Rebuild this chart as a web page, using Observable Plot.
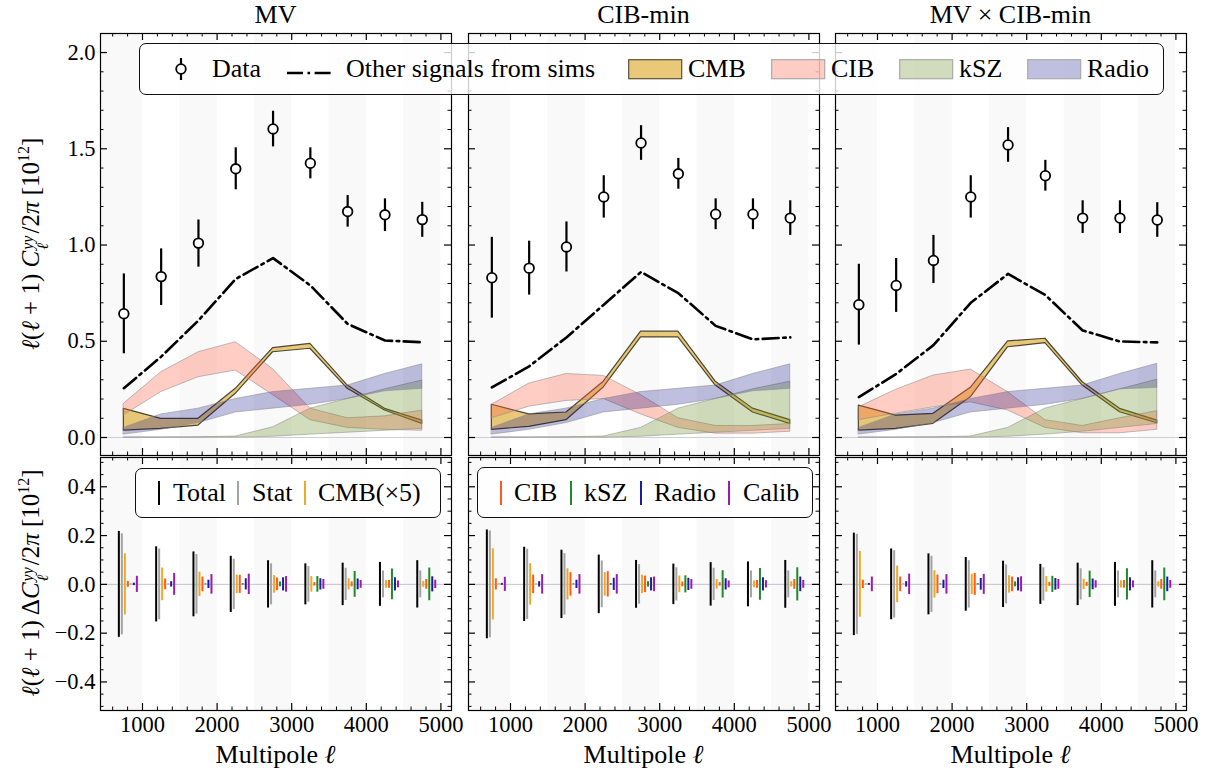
<!DOCTYPE html>
<html>
<head>
<meta charset="utf-8">
<script src="https://cdn.jsdelivr.net/npm/d3@7"></script>
<script src="https://cdn.jsdelivr.net/npm/@observablehq/plot@0.6"></script>
<style>
html,body{margin:0;padding:0;background:#fff;}
#root{position:relative;width:1222px;height:776px;overflow:hidden;font-family:"Liberation Serif","Times New Roman",serif;color:#000;}
#root svg text{font-family:"Liberation Serif","Times New Roman",serif !important;}
.abs{position:absolute;white-space:nowrap;}
.title{font-size:26px;text-align:center;width:351px;line-height:30px;}
.xlab{font-size:26px;text-align:center;width:351px;line-height:30px;}
.ylab{font-size:25px;transform:translate(-50%,-50%) rotate(-90deg);line-height:30px;}
.ss{display:inline-flex;flex-direction:column;font-size:0.64em;line-height:0.95;vertical-align:0.36em;font-style:italic;margin:0 2px 0 1px;}
.sup{font-size:0.64em;vertical-align:0.6em;line-height:0;}
.legend{position:absolute;border:1.6px solid #111;border-radius:7px;background:rgba(255,255,255,0.8);box-sizing:border-box;}
.ltext{position:absolute;font-size:26px;line-height:30px;white-space:nowrap;}
</style>
</head>
<body>
<div id="root"></div>
<script>
// ---------------- data ----------------
const ell = [750, 1250, 1750, 2250, 2750, 3250, 3750, 4250, 4750];
const panelTitles = ["MV", "CIB-min", "MV × CIB-min"];

// measured band powers and error bar ends
const dataMV = [0.643, 0.836, 1.01, 1.396, 1.603, 1.425, 1.174, 1.157, 1.132];
const loMV   = [0.435, 0.686, 0.885, 1.287, 1.51, 1.344, 1.093, 1.07, 1.04];
const hiMV   = [0.85, 0.98, 1.13, 1.505, 1.695, 1.505, 1.257, 1.24, 1.222];
const dataCM = [0.83, 0.88, 0.99, 1.25, 1.53, 1.37, 1.16, 1.16, 1.14];
const loCM   = [0.62, 0.74, 0.86, 1.14, 1.44, 1.29, 1.08, 1.08, 1.05];
const hiCM   = [1.04, 1.02, 1.12, 1.36, 1.62, 1.45, 1.24, 1.24, 1.23];
const dataX  = [0.69, 0.79, 0.92, 1.25, 1.52, 1.36, 1.14, 1.14, 1.13];
const loX    = [0.48, 0.65, 0.80, 1.14, 1.43, 1.28, 1.06, 1.06, 1.04];
const hiX    = [0.90, 0.93, 1.05, 1.36, 1.61, 1.44, 1.23, 1.23, 1.22];

// other signals from sims
const otherMV = [0.256, 0.42, 0.608, 0.824, 0.932, 0.79, 0.59, 0.504, 0.495];
const otherCM = [0.26, 0.37, 0.52, 0.69, 0.86, 0.75, 0.58, 0.51, 0.52];
const otherX  = [0.21, 0.33, 0.48, 0.70, 0.85, 0.74, 0.556, 0.499, 0.494];

// component bands (lower, upper)
const cmbLoMV = [0.036, 0.045, 0.062, 0.227, 0.443, 0.461, 0.253, 0.140, 0.071];
const cmbHiMV = [0.149, 0.097, 0.097, 0.253, 0.464, 0.486, 0.270, 0.149, 0.088];
const cibLoMV = [0.115, 0.236, 0.313, 0.348, 0.22, 0.09, 0.05, 0.04, 0.035];
const cibHiMV = [0.175, 0.339, 0.443, 0.495, 0.355, 0.15, 0.10, 0.11, 0.14];
const kszLoMV = [0, 0, 0, 0, 0.004, 0.015, 0.025, 0.035, 0.045];
const kszHiMV = [0, 0, 0.001, 0.005, 0.053, 0.15, 0.20, 0.25, 0.296];
const radLoMV = [0.015, 0.04, 0.075, 0.13, 0.15, 0.17, 0.20, 0.24, 0.253];
const radHiMV = [0.05, 0.12, 0.15, 0.20, 0.236, 0.253, 0.27, 0.33, 0.38];

const cmbLoCM = [0.04, 0.055, 0.09, 0.26, 0.52, 0.52, 0.27, 0.13, 0.07];
const cmbHiCM = [0.17, 0.12, 0.13, 0.29, 0.55, 0.55, 0.29, 0.15, 0.09];
const cibLoCM = [0.10, 0.16, 0.19, 0.20, 0.12, 0.05, 0.02, 0.02, 0.03];
const cibHiCM = [0.17, 0.28, 0.33, 0.32, 0.22, 0.10, 0.06, 0.06, 0.07];
const kszLoCM = [0, 0, 0, 0, 0.004, 0.015, 0.025, 0.035, 0.045];
const kszHiCM = [0, 0, 0.001, 0.005, 0.05, 0.15, 0.20, 0.25, 0.29];
const radLoCM = [0.015, 0.04, 0.075, 0.13, 0.15, 0.17, 0.20, 0.24, 0.253];
const radHiCM = [0.05, 0.12, 0.15, 0.20, 0.236, 0.253, 0.27, 0.33, 0.38];

const cmbLoX = [0.036, 0.045, 0.071, 0.209, 0.469, 0.49, 0.27, 0.131, 0.074];
const cmbHiX = [0.166, 0.114, 0.123, 0.258, 0.499, 0.513, 0.287, 0.149, 0.088];
const cibLoX = [0.09, 0.124, 0.157, 0.183, 0.14, 0.05, 0.022, 0.022, 0.04];
const cibHiX = [0.157, 0.248, 0.322, 0.353, 0.235, 0.09, 0.06, 0.10, 0.137];
const kszLoX = [0, 0, 0, 0, 0.004, 0.015, 0.03, 0.05, 0.07];
const kszHiX = [0, 0, 0.001, 0.005, 0.05, 0.15, 0.20, 0.25, 0.30];
const radLoX = [0.015, 0.04, 0.075, 0.13, 0.15, 0.17, 0.20, 0.25, 0.258];
const radHiX = [0.05, 0.12, 0.15, 0.20, 0.236, 0.253, 0.27, 0.33, 0.383];

// error budget half-widths (bottom row)
const compNames = ["Total", "Stat", "CMB(×5)", "CIB", "kSZ", "Radio", "Calib"];
const errMV = [
  [0.217, 0.154, 0.133, 0.115, 0.097, 0.084, 0.087, 0.09, 0.097],
  [0.207, 0.145, 0.122, 0.103, 0.084, 0.073, 0.066, 0.055, 0.055],
  [0.125, 0.067, 0.05, 0.038, 0.036, 0.032, 0.023, 0.016, 0.012],
  [0.012, 0.022, 0.03, 0.037, 0.026, 0.007, 0.01, 0.016, 0.02],
  [0.001, 0.001, 0.002, 0.003, 0.01, 0.032, 0.053, 0.063, 0.067],
  [0.005, 0.011, 0.017, 0.023, 0.027, 0.023, 0.022, 0.027, 0.031],
  [0.033, 0.045, 0.04, 0.042, 0.032, 0.02, 0.016, 0.014, 0.017]
];
const errCM = [
  [0.223, 0.152, 0.14, 0.12, 0.098, 0.083, 0.089, 0.092, 0.098],
  [0.219, 0.144, 0.126, 0.096, 0.081, 0.068, 0.066, 0.055, 0.055],
  [0.146, 0.085, 0.064, 0.048, 0.038, 0.034, 0.02, 0.014, 0.011],
  [0.023, 0.038, 0.048, 0.052, 0.034, 0.01, 0.007, 0.016, 0.02],
  [0.001, 0.001, 0.002, 0.004, 0.011, 0.035, 0.056, 0.065, 0.068],
  [0.004, 0.011, 0.017, 0.025, 0.027, 0.025, 0.023, 0.027, 0.03],
  [0.029, 0.04, 0.04, 0.04, 0.03, 0.02, 0.014, 0.015, 0.016]
];
const errX = [
  [0.21, 0.145, 0.125, 0.11, 0.095, 0.082, 0.087, 0.09, 0.097],
  [0.205, 0.138, 0.115, 0.097, 0.08, 0.068, 0.064, 0.055, 0.055],
  [0.135, 0.075, 0.056, 0.042, 0.036, 0.032, 0.021, 0.015, 0.011],
  [0.017, 0.03, 0.038, 0.045, 0.03, 0.008, 0.008, 0.016, 0.02],
  [0.001, 0.001, 0.002, 0.003, 0.01, 0.033, 0.054, 0.064, 0.067],
  [0.004, 0.011, 0.017, 0.024, 0.027, 0.024, 0.022, 0.027, 0.03],
  [0.03, 0.042, 0.04, 0.041, 0.031, 0.02, 0.015, 0.014, 0.016]
];

// axis ticks
const xMajor = [1000, 2000, 3000, 4000, 5000];
const yTopMajor = [0, 0.5, 1.0, 1.5, 2.0];
const yBotMajor = [-0.4, -0.2, 0, 0.2, 0.4];
const shadeStart = [437, 1500, 2500, 3500, 4500];
const shadeEnd = [1000, 2000, 3000, 4000, 5000];

// ---------------- styles ----------------
const compColors = ["#000000", "#a3a3a3", "#eeaa22", "#ff5a1f", "#1f8a26", "#1c1ca0", "#9a1caa"];
const compDx = [-5, -2, 1, 4, 7, 10, 13];
const bandStyle = {
  cmb: {fill: "#daa520", fillOpacity: 0.6, stroke: "#3a3522", strokeWidth: 1.2, strokeOpacity: 0.9},
  cib: {fill: "#ff6347", fillOpacity: 0.32, stroke: "#888", strokeWidth: 0.9, strokeOpacity: 0.6},
  ksz: {fill: "#6b8e23", fillOpacity: 0.3, stroke: "#888", strokeWidth: 0.9, strokeOpacity: 0.6},
  rad: {fill: "#000080", fillOpacity: 0.25, stroke: "#888", strokeWidth: 0.9, strokeOpacity: 0.6}
};

const xDomain = [437, 5142];
const yTopDomain = [-0.0935, 2.099];
const yBotDomain = [-0.517, 0.52];
const frameLeft = [100, 468, 835];
const FW = 351, TH = 422, BH = 253, TOPY = 33, BOTY = 457;
const ML = 62, MR = 10;

const xMinor = d3.range(600, 5001, 200).filter(v => v % 1000 !== 0);
const yTopMinor = d3.range(0, 21).filter(i => i % 5 !== 0).map(i => i / 10);
const yBotMinor = d3.range(-10, 11).filter(i => i % 4 !== 0).map(i => i * 0.05);

const topSets = [
  {d: dataMV, lo: loMV, hi: hiMV, o: otherMV, cl: cmbLoMV, ch: cmbHiMV, il: cibLoMV, ih: cibHiMV, kl: kszLoMV, kh: kszHiMV, rl: radLoMV, rh: radHiMV},
  {d: dataCM, lo: loCM, hi: hiCM, o: otherCM, cl: cmbLoCM, ch: cmbHiCM, il: cibLoCM, ih: cibHiCM, kl: kszLoCM, kh: kszHiCM, rl: radLoCM, rh: radHiCM},
  {d: dataX, lo: loX, hi: hiX, o: otherX, cl: cmbLoX, ch: cmbHiX, il: cibLoX, ih: cibHiX, kl: kszLoX, kh: kszHiX, rl: radLoX, rh: radHiX}
];
const botSets = [errMV, errCM, errX];

const root = document.getElementById("root");
function place(el, left, top) {
  const d = document.createElement("div");
  d.className = "abs";
  d.style.left = left + "px";
  d.style.top = top + "px";
  d.appendChild(el);
  root.appendChild(d);
  return d;
}
function html(str, cls, left, top, extra) {
  const d = document.createElement("div");
  d.className = "abs " + (cls || "");
  d.style.left = left + "px";
  d.style.top = top + "px";
  if (extra) Object.assign(d.style, extra);
  d.innerHTML = str;
  root.appendChild(d);
  return d;
}

function tickMarks(W, H, yMaj, yMin) {
  const a = 7, b = 3.5;
  const s1 = {stroke: "#000", strokeWidth: 1.2};
  const s2 = {stroke: "#000", strokeWidth: 1};
  return [
    Plot.ruleX(xMajor, {x: d => d, insetTop: H - a, ...s1}),
    Plot.ruleX(xMajor, {x: d => d, insetBottom: H - a, ...s1}),
    Plot.ruleX(xMinor, {x: d => d, insetTop: H - b, ...s2}),
    Plot.ruleX(xMinor, {x: d => d, insetBottom: H - b, ...s2}),
    Plot.ruleY(yMaj, {y: d => d, insetRight: W - a, ...s1}),
    Plot.ruleY(yMaj, {y: d => d, insetLeft: W - a, ...s1}),
    Plot.ruleY(yMin, {y: d => d, insetRight: W - b, ...s2}),
    Plot.ruleY(yMin, {y: d => d, insetLeft: W - b, ...s2})
  ];
}
const shadeRows = shadeStart.map((s, i) => ({x1: s, x2: shadeEnd[i]}));
const plotStyle = {fontFamily: '"Liberation Serif","Times New Roman",serif', fontSize: "22.5px", background: "transparent", overflow: "visible", color: "#000"};
const shadeFill = "#f9f9f9";

function topPanel(p) {
  const s = topSets[p];
  const rows = ell.map((l, i) => ({
    ell: l, d: s.d[i], lo: s.lo[i], hi: s.hi[i], o: s.o[i],
    cl: s.cl[i], ch: s.ch[i], il: s.il[i], ih: s.ih[i], kl: s.kl[i], kh: s.kh[i], rl: s.rl[i], rh: s.rh[i]
  }));
  const mt = 6, mb = 6;
  const svg = Plot.plot({
    width: FW + ML + MR, height: TH + mt + mb,
    marginLeft: ML, marginRight: MR, marginTop: mt, marginBottom: mb,
    style: plotStyle,
    x: {domain: xDomain, axis: null},
    y: p === 0
      ? {domain: yTopDomain, ticks: yTopMajor, tickSize: 0, tickPadding: 5, tickFormat: d3.format(".1f"), label: null}
      : {domain: yTopDomain, axis: null},
    marks: [
      Plot.rect(shadeRows, {x1: "x1", x2: "x2", y1: yTopDomain[0], y2: yTopDomain[1], fill: shadeFill}),
      Plot.ruleY([0], {stroke: "#cfcfcf", strokeWidth: 1}),
      Plot.areaY(rows, {x: "ell", y1: "cl", y2: "ch", ...bandStyle.cmb}),
      Plot.areaY(rows, {x: "ell", y1: "il", y2: "ih", ...bandStyle.cib}),
      Plot.areaY(rows, {x: "ell", y1: "kl", y2: "kh", ...bandStyle.ksz}),
      Plot.areaY(rows, {x: "ell", y1: "rl", y2: "rh", ...bandStyle.rad}),
      Plot.line(rows, {x: "ell", y: "o", stroke: "#000", strokeWidth: 2.6, strokeDasharray: "16,4.5,2.6,4.5"}),
      Plot.ruleX(rows, {x: "ell", y1: "lo", y2: "hi", stroke: "#000", strokeWidth: 2.2}),
      Plot.dot(rows, {x: "ell", y: "d", r: 4.8, fill: "#fff", stroke: "#000", strokeWidth: 1.8}),
      Plot.frame({stroke: "#000", strokeWidth: 1.2}),
      ...tickMarks(FW, TH, yTopMajor, yTopMinor)
    ]
  });
  place(svg, frameLeft[p] - ML, TOPY - mt);
}

function bottomPanel(p) {
  const errs = botSets[p];
  const mt = 6, mb = 44;
  const marks = [
    Plot.rect(shadeRows, {x1: "x1", x2: "x2", y1: yBotDomain[0], y2: yBotDomain[1], fill: shadeFill}),
    Plot.ruleY([0], {stroke: "#b9b4c4", strokeWidth: 1, strokeOpacity: 0.8})
  ];
  compNames.forEach((c, k) => {
    const rows = ell.map((l, i) => ({ell: l, e: errs[k][i]}));
    marks.push(Plot.ruleX(rows, {x: "ell", y1: d => -d.e, y2: d => d.e, stroke: compColors[k], strokeWidth: 2, dx: compDx[k]}));
  });
  marks.push(Plot.frame({stroke: "#000", strokeWidth: 1.2}));
  marks.push(...tickMarks(FW, BH, yBotMajor, yBotMinor));
  const svg = Plot.plot({
    width: FW + ML + MR, height: BH + mt + mb,
    marginLeft: ML, marginRight: MR, marginTop: mt, marginBottom: mb,
    style: plotStyle,
    x: {domain: xDomain, ticks: xMajor, tickSize: 0, tickPadding: 6, tickFormat: d => String(d), label: null},
    y: p === 0
      ? {domain: yBotDomain, ticks: yBotMajor, tickSize: 0, tickPadding: 5, tickFormat: d3.format(".1f"), label: null}
      : {domain: yBotDomain, axis: null},
    marks
  });
  place(svg, frameLeft[p] - ML, BOTY - mt);
}

[0, 1, 2].forEach(p => { topPanel(p); bottomPanel(p); });

// titles and axis labels
panelTitles.forEach((t, p) => {
  html(t, "title", frameLeft[p], 0);
  html("Multipole <i>ℓ</i>", "xlab", frameLeft[p], 740);
});
html('<i>ℓ</i>(<i>ℓ</i> + 1) <i>C</i><span class="ss"><span>yy</span><span>ℓ</span></span>/2<i>π</i> [10<span class="sup">12</span>]', "ylab", 33, 244);
html('<i>ℓ</i>(<i>ℓ</i> + 1) Δ<i>C</i><span class="ss"><span>yy</span><span>ℓ</span></span>/2<i>π</i> [10<span class="sup">12</span>]', "ylab", 33, 583);

// ---------------- legends ----------------
function box(l, t, w, h) {
  const d = document.createElement("div");
  d.className = "legend";
  Object.assign(d.style, {left: l + "px", top: t + "px", width: w + "px", height: h + "px"});
  root.appendChild(d);
}
function svgIcon(inner, l, t, w, h) {
  const d = document.createElement("div");
  d.className = "abs";
  Object.assign(d.style, {left: l + "px", top: t + "px", width: w + "px", height: h + "px"});
  d.innerHTML = `<svg width="${w}" height="${h}" xmlns="http://www.w3.org/2000/svg">${inner}</svg>`;
  root.appendChild(d);
}
function ltext(t, l, top) {
  html(t, "ltext", l, top);
}

// top legend
box(139, 43, 1025, 52);
svgIcon('<line x1="10" y1="2" x2="10" y2="24" stroke="#000" stroke-width="2.2"/><circle cx="10" cy="13" r="4.8" fill="#fff" stroke="#000" stroke-width="1.8"/>', 171, 56, 20, 26);
ltext("Data", 212, 54);
svgIcon('<line x1="0" y1="5" x2="48" y2="5" stroke="#000" stroke-width="2.6" stroke-dasharray="16,4.5,2.6,4.5"/>', 287, 64, 50, 10);
ltext("Other signals from sims", 346, 54);
const swatches = [
  {k: "cmb", x: 628, label: "CMB"},
  {k: "cib", x: 771, label: "CIB"},
  {k: "ksz", x: 899, label: "kSZ"},
  {k: "rad", x: 1027, label: "Radio"}
];
swatches.forEach(s => {
  const st = bandStyle[s.k];
  const edge = s.k === "cmb" ? "#5a5232" : "#aaa";
  svgIcon(`<rect x="0.7" y="0.7" width="53" height="19" fill="${st.fill}" fill-opacity="${st.fillOpacity}" stroke="${edge}" stroke-width="1.2"/>`, s.x, 59, 55, 21);
  ltext(s.label, s.x + 60, 54);
});

// bottom legends
box(135, 468, 306, 50);
box(477, 467, 336, 51);
const botLegend = [
  {k: 0, mx: 159, tx: 173}, {k: 1, mx: 238, tx: 252}, {k: 2, mx: 305, tx: 318},
  {k: 3, mx: 501, tx: 514}, {k: 4, mx: 571, tx: 584}, {k: 5, mx: 641, tx: 654}, {k: 6, mx: 729, tx: 743}
];
botLegend.forEach(b => {
  svgIcon(`<line x1="2" y1="0" x2="2" y2="24" stroke="${compColors[b.k]}" stroke-width="2"/>`, b.mx - 2, 481, 4, 24);
  ltext(compNames[b.k], b.tx, 478);
});
</script>
</body>
</html>
